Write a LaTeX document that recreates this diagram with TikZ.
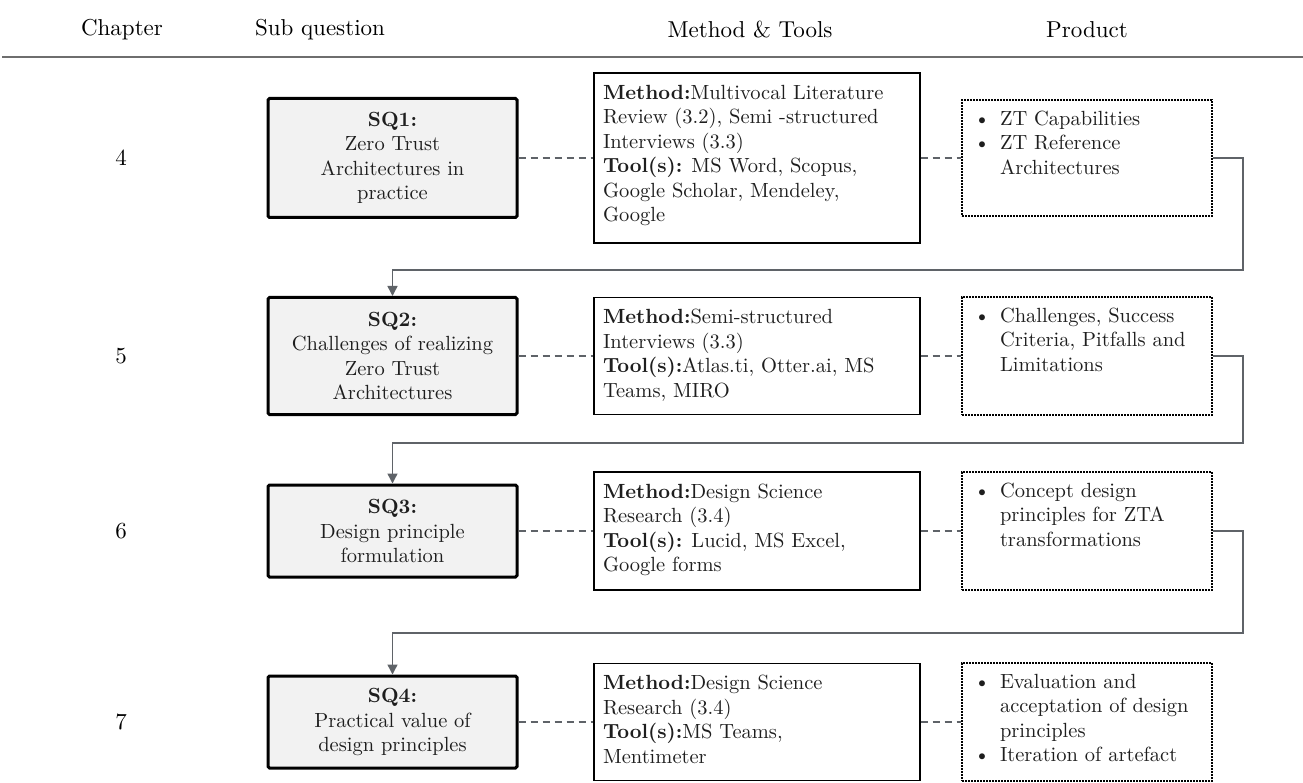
\documentclass[tikz,border=0pt]{standalone}
\usepackage{fontspec}
\setmainfont{lmroman10-regular.otf}[BoldFont=lmroman10-bold.otf]
\usetikzlibrary{arrows.meta}

\definecolor{linkgray}{HTML}{5F6368}
\definecolor{rulegray}{HTML}{6E6E6E}
\definecolor{sqfill}{HTML}{F2F2F2}
\definecolor{inkgray}{HTML}{1E1E1E}

% top-aligned text block of fixed height and width
\newcommand\topbox[3]{\parbox[c][#1][t]{#2}{\strut #3}}
% bullet line and continuation line for product lists
\newcommand\bul{\makebox[30pt][l]{\hspace{4pt}\textbullet}}
\newcommand\cnt{\hspace*{30pt}}

\tikzset{
  base/.style={font=\fontsize{20.5}{24.5}\selectfont, text=inkgray},
  head/.style={font=\fontsize{23}{27}\selectfont},
  sqbox/.style={base, draw=black, line width=3pt, fill=sqfill,
    rounded corners=1.5pt, minimum width=249pt, align=center, inner sep=4pt},
  methodbox/.style={base, draw=black, line width=1.2pt, inner sep=9pt},
  productbox/.style={base, draw=black, line width=2.4pt,
    dash pattern=on 1.6pt off 1.4pt, inner sep=8pt},
  link/.style={draw=linkgray, line width=1.4pt, dash pattern=on 7pt off 5pt},
  flow/.style={draw=linkgray, line width=1.4pt,
    -{Triangle[length=10pt,width=10pt]}},
}

\begin{document}
\begin{tikzpicture}[x=1pt, y=-1pt]
\useasboundingbox (0,0) rectangle (1303,783);

% column headings
\node[head] (hch) at (122,30) {Chapter};
\node[head] (hsq) at (320,30) {Sub question};
\node[head] (hmt) at (750,30) {Method \& Tools};
\node[head] (hpr) at (1087,30) {Product};
\coordinate (rl) at (2,57);
\coordinate (rr) at (1303,57);
\draw[rulegray, line width=1.6pt] (rl) -- (rr);

% chapter numbers
\node[head] (c4) at (121,158) {4};
\node[head] (c5) at (121,356) {5};
\node[head] (c6) at (121,531) {6};
\node[head] (c7) at (121,722) {7};

% sub questions
\node[sqbox, minimum height=119pt] (sq1) at (392.5,158)
  {\textbf{SQ1:}\\Zero Trust\\Architectures in\\practice};
\node[sqbox, minimum height=117pt] (sq2) at (392.5,356)
  {\textbf{SQ2:}\\Challenges of realizing\\Zero Trust\\Architectures};
\node[sqbox, minimum height=92pt] (sq3) at (392.5,531)
  {\textbf{SQ3:}\\Design principle\\formulation};
\node[sqbox, minimum height=92pt] (sq4) at (392.5,722)
  {\textbf{SQ4:}\\Practical value of\\design principles};

% methods and tools
\node[methodbox] (m1) at (757,158) {\topbox{152pt}{308pt}{%
  \textbf{Method:}Multivocal Literature\\
  Review (3.2), Semi -structured\\
  Interviews (3.3)\\
  \textbf{Tool(s):} MS Word, Scopus,\\
  Google Scholar, Mendeley,\\
  Google}};
\node[methodbox] (m2) at (757,356) {\topbox{99pt}{308pt}{%
  \textbf{Method:}Semi-structured\\
  Interviews (3.3)\\
  \textbf{Tool(s):}Atlas.ti, Otter.ai, MS\\
  Teams, MIRO}};
\node[methodbox] (m3) at (757,531) {\topbox{100pt}{308pt}{%
  \textbf{Method:}Design Science\\
  Research (3.4)\\
  \textbf{Tool(s):} Lucid, MS Excel,\\
  Google forms}};
\node[methodbox] (m4) at (757,722) {\topbox{99pt}{308pt}{%
  \textbf{Method:}Design Science\\
  Research (3.4)\\
  \textbf{Tool(s):}MS Teams,\\
  Mentimeter}};

% products
\node[productbox] (p1) at (1087,158) {\topbox{100pt}{234pt}{%
  \bul ZT Capabilities\\
  \bul ZT Reference\\
  \cnt Architectures}};
\node[productbox] (p2) at (1087,356) {\topbox{102pt}{234pt}{%
  \bul Challenges, Success\\
  \cnt Criteria, Pitfalls and\\
  \cnt Limitations}};
\node[productbox] (p3) at (1087,531) {\topbox{102pt}{234pt}{%
  \bul Concept design\\
  \cnt principles for ZTA\\
  \cnt transformations}};
\node[productbox] (p4) at (1087,722) {\topbox{102pt}{234pt}{%
  \bul Evaluation and\\
  \cnt acceptation of design\\
  \cnt principles\\
  \bul Iteration of artefact}};

% row links
\foreach \r in {1,2,3,4} {
  \draw[link] (sq\r.east) -- (m\r.west);
  \draw[link] (m\r.east) -- (p\r.west);
}

% flow from each product to the next sub question
\coordinate (t1) at (1243,270);
\coordinate (t2) at (1243,443);
\coordinate (t3) at (1243,633);
\draw[flow] (p1.east) -| (t1) -| (sq2.north);
\draw[flow] (p2.east) -| (t2) -| (sq3.north);
\draw[flow] (p3.east) -| (t3) -| (sq4.north);
\end{tikzpicture}
\end{document}
